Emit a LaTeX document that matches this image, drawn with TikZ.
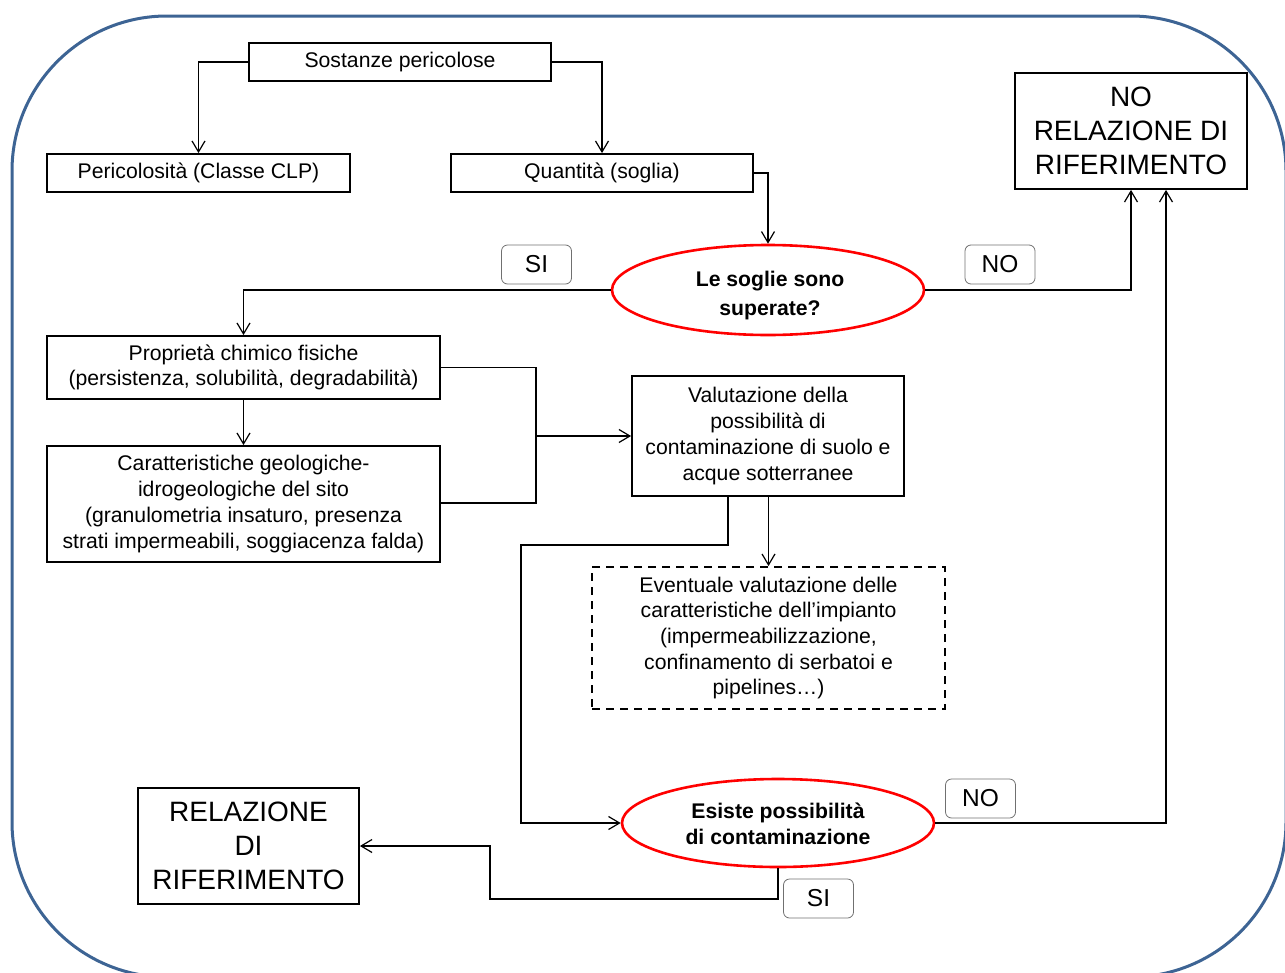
\documentclass[tikz,border=0pt]{standalone}
\usepackage{fontspec}
\setmainfont{Liberation Sans}
\usetikzlibrary{shapes.geometric,arrows.meta,calc}
\definecolor{frameblue}{HTML}{3D6494}
\definecolor{lblgray}{HTML}{707070}
\tikzset{
  box/.style={draw=black,line width=1.8pt,inner sep=0pt,align=center,
    font=\fontsize{21.2}{25.7}\selectfont},
  bigbox/.style={draw=black,line width=1.8pt,inner sep=0pt,align=center,
    font=\fontsize{28}{34}\selectfont},
  dashbox/.style={box,dash pattern=on 8pt off 6pt},
  decision/.style={ellipse,draw=red,line width=2.6pt,inner sep=0pt,align=center,
    minimum width=312pt,minimum height=90pt},
  dectext/.style={inner sep=0pt,align=center},
  lbl/.style={draw=lblgray,line width=0.8pt,rounded corners=6pt,inner sep=0pt,
    minimum width=70pt,minimum height=39pt,font=\fontsize{24.5}{26}\selectfont},
  conn/.style={line width=1.2pt,draw=black},
  arr/.style={conn,-{Straight Barb[length=11pt,width=13pt,line width=1.2pt]}}
}
\begin{document}
\begin{tikzpicture}[x=1pt,y=-1pt]
\useasboundingbox (0,0) rectangle (1285,972);
\begin{scope}
\clip (0,0) rectangle (1285,972);
\draw[frameblue,line width=3pt,rounded corners=155pt] (12,16) rectangle (1286,977);
\end{scope}

% nodes
\node[box,minimum width=302pt,minimum height=38pt] (sost) at (400,62) {Sostanze pericolose};
\node[box,minimum width=303pt,minimum height=38pt] (peric) at (198.5,173) {Pericolosità (Classe CLP)};
\node[box,minimum width=302pt,minimum height=38pt] (quant) at (602,173) {Quantità (soglia)};
\node[bigbox,minimum width=232pt,minimum height=116pt] (norel) at (1131,131) {NO\\RELAZIONE DI\\RIFERIMENTO};
\node[decision] (ell1) at (768,290) {};
\node[dectext,font=\fontsize{21.2}{29}\selectfont\bfseries] (ell1t) at (770,296) {Le soglie sono\\superate?};
\node[lbl] (si1) at (536.5,264.5) {SI};
\node[lbl] (no1) at (1000,264.5) {NO};
\node[box,minimum width=393pt,minimum height=63pt] (prop) at (243.5,367.5) {Proprietà chimico fisiche\\(persistenza, solubilità, degradabilità)};
\node[box,minimum width=393pt,minimum height=116pt] (car) at (243.5,504) {Caratteristiche geologiche-\\idrogeologiche del sito\\(granulometria insaturo, presenza\\strati impermeabili, soggiacenza falda)};
\node[box,minimum width=272pt,minimum height=120pt] (val) at (768,436) {Valutazione della\\possibilità di\\contaminazione di suolo e\\acque sotterranee};
\node[dashbox,minimum width=353pt,minimum height=142pt] (dash) at (768.5,638) {Eventuale valutazione delle\\caratteristiche dell’impianto\\(impermeabilizzazione,\\confinamento di serbatoi e\\pipelines…)};
\node[decision,minimum height=88pt] (ell2) at (778,823) {};
\node[dectext,font=\fontsize{21.2}{26}\selectfont\bfseries] (ell2t) at (778,824) {Esiste possibilità\\di contaminazione};
\node[lbl] (no2) at (980.5,798.5) {NO};
\node[lbl] (si2) at (818.5,898.5) {SI};
\node[bigbox,minimum width=221pt,minimum height=116pt] (rel) at (248.5,846) {RELAZIONE\\DI\\RIFERIMENTO};

% helper coordinates
\coordinate (jt) at (536,367.5);
\coordinate (jb) at (536,503);
\coordinate (k) at (521,545);
\coordinate (m) at (490,899);

% connectors
\draw[arr] (sost.west) -| (peric.north);
\draw[arr] (sost.east) -| (quant.north);
\draw[arr] (quant.east) -| (ell1.north);
\draw[arr] (ell1.west) -| (prop.north);
\draw[arr] (ell1.east) -| (norel.south);
\draw[arr] (prop.south) -- (car.north);
\draw[conn] (prop.east) -- (jt) -- (jb) -- (car.east |- jb);
\draw[arr] (jt |- val.west) -- (val.west);
\draw[arr] (val.south -| dash.north) -- (dash.north);
\draw[arr] ([xshift=-40pt]val.south) |- (k) |- (ell2.west);
\draw[arr] (ell2.east) -| ([xshift=35pt]norel.south);
\draw[arr] (ell2.south) |- (m) |- (rel.east);
\end{tikzpicture}
\end{document}
